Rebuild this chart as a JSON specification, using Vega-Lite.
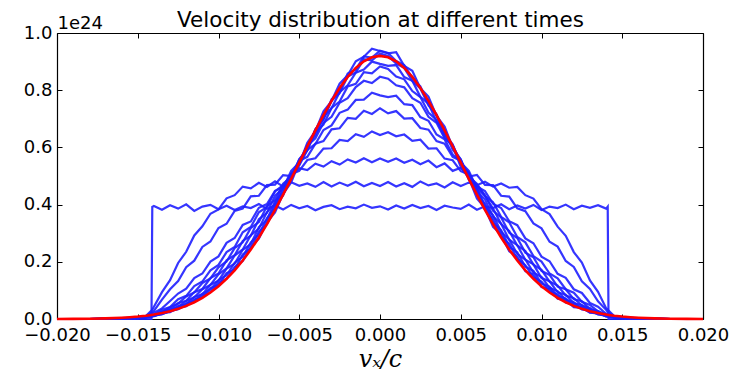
{
  "$schema": "https://vega.github.io/schema/vega-lite/v6.json",
  "autosize": {"type": "none"},
  "padding": {"left": 57, "top": 33, "right": 53, "bottom": 56},
  "width": 646,
  "height": 286,
  "background": "white",
  "config": {
    "view": {"stroke": null},
    "axis": {"domainColor": "black", "domainWidth": 1.2, "tickColor": "black", "tickWidth": 1, "labelColor": "black", "labelFont": "DejaVu Sans", "labelFontSize": 18, "tickSize": -5, "grid": false, "labelFlush": false, "labelOverlap": false, "labelPadding": 10}
  },
  "data": {"values": [
    {"x": -0.02, "a": 0, "b": 0, "c": 0, "d": 0, "e": 0, "f": 0, "g": 0, "h": 0, "i": 0, "j": 0, "k": 0, "l": 0, "r": 0.0002},
    {"x": -0.019, "a": 0, "b": 0, "c": 0, "d": 0, "e": 0, "f": 0, "g": 0, "h": 0, "i": 0, "j": 0, "k": 0, "l": 0, "r": 0.0005},
    {"x": -0.018, "a": 0, "b": 0, "c": 0, "d": 0, "e": 0, "f": 0, "g": 0, "h": 0, "i": 0, "j": 0, "k": 0, "l": 0, "r": 0.0011},
    {"x": -0.017, "a": 0, "b": 0, "c": 0, "d": 0, "e": 0, "f": 0, "g": 0, "h": 0.001, "i": 0.001, "j": 0.001, "k": 0.001, "l": 0.001, "r": 0.0022},
    {"x": -0.016, "a": 0, "b": 0.001, "c": 0.001, "d": 0.001, "e": 0.001, "f": 0.001, "g": 0.001, "h": 0.002, "i": 0.002, "j": 0.002, "k": 0.003, "l": 0.002, "r": 0.0045},
    {"x": -0.0155, "a": 0, "b": 0.002, "c": 0.002, "d": 0.002, "e": 0.002, "f": 0.002, "g": 0.002, "h": 0.003, "i": 0.003, "j": 0.003, "k": 0.004, "l": 0.004, "r": 0.0062},
    {"x": -0.015, "a": 0, "b": 0.004, "c": 0.003, "d": 0.003, "e": 0.003, "f": 0.003, "g": 0.003, "h": 0.003, "i": 0.004, "j": 0.004, "k": 0.005, "l": 0.005, "r": 0.0085},
    {"x": -0.0145, "a": 0, "b": 0.01, "c": 0.008, "d": 0.007, "e": 0.006, "f": 0.006, "g": 0.006, "h": 0.006, "i": 0.006, "j": 0.006, "k": 0.007, "l": 0.007, "r": 0.0115},
    {"x": -0.01415, "a": 0, "b": 0.03, "c": 0.022, "d": 0.017, "e": 0.013, "f": 0.011, "g": 0.01, "h": 0.01, "i": 0.009, "j": 0.009, "k": 0.009, "l": 0.009, "r": 0.0142},
    {"x": -0.0141, "a": 0.392, "b": 0.033, "c": 0.024, "d": 0.018, "e": 0.014, "f": 0.012, "g": 0.011, "h": 0.011, "i": 0.01, "j": 0.01, "k": 0.01, "l": 0.01, "r": 0.0146},
    {"x": -0.014, "a": 0.395, "b": 0.043, "c": 0.028, "d": 0.022, "e": 0.014, "f": 0.014, "g": 0.011, "h": 0.013, "i": 0.010, "j": 0.012, "k": 0.010, "l": 0.012, "r": 0.0155},
    {"x": -0.0135, "a": 0.382, "b": 0.094, "c": 0.068, "d": 0.037, "e": 0.032, "f": 0.023, "g": 0.026, "h": 0.019, "i": 0.022, "j": 0.017, "k": 0.021, "l": 0.017, "r": 0.0207},
    {"x": -0.013, "a": 0.398, "b": 0.136, "c": 0.104, "d": 0.063, "e": 0.042, "f": 0.041, "g": 0.033, "h": 0.032, "i": 0.026, "j": 0.029, "k": 0.024, "l": 0.027, "r": 0.0273},
    {"x": -0.0125, "a": 0.386, "b": 0.196, "c": 0.133, "d": 0.089, "e": 0.069, "f": 0.054, "g": 0.055, "h": 0.042, "i": 0.045, "j": 0.036, "k": 0.040, "l": 0.034, "r": 0.0355},
    {"x": -0.012, "a": 0.401, "b": 0.235, "c": 0.181, "d": 0.106, "e": 0.081, "f": 0.079, "g": 0.064, "h": 0.063, "i": 0.052, "j": 0.054, "k": 0.045, "l": 0.049, "r": 0.0459},
    {"x": -0.0115, "a": 0.378, "b": 0.292, "c": 0.204, "d": 0.143, "e": 0.115, "f": 0.093, "g": 0.094, "h": 0.076, "i": 0.077, "j": 0.064, "k": 0.068, "l": 0.059, "r": 0.0586},
    {"x": -0.011, "a": 0.393, "b": 0.324, "c": 0.252, "d": 0.159, "e": 0.131, "f": 0.126, "g": 0.105, "h": 0.104, "i": 0.086, "j": 0.089, "k": 0.076, "l": 0.081, "r": 0.0740},
    {"x": -0.0105, "a": 0.399, "b": 0.368, "c": 0.271, "d": 0.201, "e": 0.170, "f": 0.142, "g": 0.143, "h": 0.119, "i": 0.120, "j": 0.103, "k": 0.108, "l": 0.094, "r": 0.0926},
    {"x": -0.01, "a": 0.384, "b": 0.383, "c": 0.318, "d": 0.219, "e": 0.189, "f": 0.181, "g": 0.159, "h": 0.156, "i": 0.134, "j": 0.136, "k": 0.119, "l": 0.126, "r": 0.1147},
    {"x": -0.0095, "a": 0.396, "b": 0.422, "c": 0.333, "d": 0.266, "e": 0.234, "f": 0.201, "g": 0.205, "h": 0.177, "i": 0.176, "j": 0.153, "k": 0.160, "l": 0.141, "r": 0.1405},
    {"x": -0.009, "a": 0.381, "b": 0.433, "c": 0.378, "d": 0.283, "e": 0.252, "f": 0.248, "g": 0.223, "h": 0.222, "i": 0.193, "j": 0.197, "k": 0.173, "l": 0.182, "r": 0.1703},
    {"x": -0.0085, "a": 0.394, "b": 0.463, "c": 0.386, "d": 0.329, "e": 0.303, "f": 0.268, "g": 0.273, "h": 0.243, "i": 0.242, "j": 0.218, "k": 0.226, "l": 0.203, "r": 0.2044},
    {"x": -0.008, "a": 0.388, "b": 0.457, "c": 0.429, "d": 0.341, "e": 0.322, "f": 0.318, "g": 0.291, "h": 0.293, "i": 0.262, "j": 0.268, "k": 0.247, "l": 0.253, "r": 0.2427},
    {"x": -0.0075, "a": 0.402, "b": 0.476, "c": 0.431, "d": 0.389, "e": 0.373, "f": 0.339, "g": 0.349, "h": 0.316, "i": 0.321, "j": 0.295, "k": 0.305, "l": 0.281, "r": 0.2851},
    {"x": -0.007, "a": 0.385, "b": 0.462, "c": 0.468, "d": 0.402, "e": 0.392, "f": 0.394, "g": 0.371, "h": 0.374, "i": 0.347, "j": 0.353, "k": 0.332, "l": 0.338, "r": 0.3316},
    {"x": -0.0065, "a": 0.397, "b": 0.481, "c": 0.470, "d": 0.448, "e": 0.446, "f": 0.416, "g": 0.431, "h": 0.402, "i": 0.411, "j": 0.387, "k": 0.398, "l": 0.373, "r": 0.3817},
    {"x": -0.006, "a": 0.383, "b": 0.463, "c": 0.503, "d": 0.462, "e": 0.468, "f": 0.473, "g": 0.457, "h": 0.463, "i": 0.441, "j": 0.452, "k": 0.432, "l": 0.438, "r": 0.4347},
    {"x": -0.0055, "a": 0.399, "b": 0.478, "c": 0.500, "d": 0.506, "e": 0.502, "f": 0.496, "g": 0.518, "h": 0.495, "i": 0.508, "j": 0.490, "k": 0.503, "l": 0.477, "r": 0.4900},
    {"x": -0.005, "a": 0.387, "b": 0.466, "c": 0.527, "d": 0.518, "e": 0.553, "f": 0.537, "g": 0.547, "h": 0.558, "i": 0.541, "j": 0.558, "k": 0.542, "l": 0.548, "r": 0.5466},
    {"x": -0.0045, "a": 0.395, "b": 0.474, "c": 0.521, "d": 0.556, "e": 0.567, "f": 0.591, "g": 0.606, "h": 0.590, "i": 0.609, "j": 0.595, "k": 0.616, "l": 0.590, "r": 0.6035},
    {"x": -0.004, "a": 0.380, "b": 0.462, "c": 0.543, "d": 0.562, "e": 0.613, "f": 0.612, "g": 0.632, "h": 0.653, "i": 0.642, "j": 0.663, "k": 0.657, "l": 0.663, "r": 0.6593},
    {"x": -0.0035, "a": 0.392, "b": 0.479, "c": 0.533, "d": 0.596, "e": 0.622, "f": 0.661, "g": 0.686, "h": 0.680, "i": 0.706, "j": 0.697, "k": 0.726, "l": 0.700, "r": 0.7129},
    {"x": -0.003, "a": 0.398, "b": 0.463, "c": 0.552, "d": 0.597, "e": 0.663, "f": 0.677, "g": 0.707, "h": 0.738, "i": 0.737, "j": 0.763, "k": 0.762, "l": 0.768, "r": 0.7628},
    {"x": -0.0025, "a": 0.384, "b": 0.477, "c": 0.540, "d": 0.626, "e": 0.667, "f": 0.721, "g": 0.756, "h": 0.760, "i": 0.793, "j": 0.790, "k": 0.823, "l": 0.797, "r": 0.8077},
    {"x": -0.002, "a": 0.393, "b": 0.466, "c": 0.558, "d": 0.622, "e": 0.703, "f": 0.732, "g": 0.772, "h": 0.813, "i": 0.817, "j": 0.848, "k": 0.852, "l": 0.858, "r": 0.8465},
    {"x": -0.0015, "a": 0.387, "b": 0.480, "c": 0.547, "d": 0.646, "e": 0.700, "f": 0.766, "g": 0.811, "h": 0.822, "i": 0.861, "j": 0.862, "k": 0.901, "l": 0.872, "r": 0.8779},
    {"x": -0.001, "a": 0.400, "b": 0.464, "c": 0.562, "d": 0.637, "e": 0.728, "f": 0.767, "g": 0.833, "h": 0.863, "i": 0.872, "j": 0.908, "k": 0.917, "l": 0.918, "r": 0.9010},
    {"x": -0.0005, "a": 0.389, "b": 0.476, "c": 0.548, "d": 0.656, "e": 0.717, "f": 0.791, "g": 0.825, "h": 0.859, "i": 0.900, "j": 0.904, "k": 0.945, "l": 0.914, "r": 0.9152},
    {"x": 0, "a": 0.394, "b": 0.465, "c": 0.561, "d": 0.643, "e": 0.737, "f": 0.782, "g": 0.847, "h": 0.883, "i": 0.892, "j": 0.928, "k": 0.937, "l": 0.938, "r": 0.92},
    {"x": 0.0005, "a": 0.383, "b": 0.479, "c": 0.550, "d": 0.653, "e": 0.719, "f": 0.776, "g": 0.840, "h": 0.874, "i": 0.885, "j": 0.920, "k": 0.929, "l": 0.930, "r": 0.9152},
    {"x": 0.001, "a": 0.397, "b": 0.463, "c": 0.561, "d": 0.639, "e": 0.727, "f": 0.781, "g": 0.817, "h": 0.848, "i": 0.888, "j": 0.893, "k": 0.933, "l": 0.902, "r": 0.9010},
    {"x": 0.0015, "a": 0.386, "b": 0.475, "c": 0.546, "d": 0.645, "e": 0.701, "f": 0.751, "g": 0.810, "h": 0.838, "i": 0.846, "j": 0.878, "k": 0.885, "l": 0.888, "r": 0.8779},
    {"x": 0.002, "a": 0.399, "b": 0.462, "c": 0.557, "d": 0.623, "e": 0.702, "f": 0.748, "g": 0.772, "h": 0.797, "i": 0.833, "j": 0.832, "k": 0.868, "l": 0.842, "r": 0.8465},
    {"x": 0.0025, "a": 0.388, "b": 0.481, "c": 0.541, "d": 0.627, "e": 0.668, "f": 0.706, "g": 0.756, "h": 0.776, "i": 0.777, "j": 0.806, "k": 0.807, "l": 0.813, "r": 0.8077},
    {"x": 0.003, "a": 0.395, "b": 0.467, "c": 0.554, "d": 0.596, "e": 0.662, "f": 0.693, "g": 0.707, "h": 0.722, "i": 0.753, "j": 0.747, "k": 0.778, "l": 0.752, "r": 0.7628},
    {"x": 0.0035, "a": 0.381, "b": 0.474, "c": 0.531, "d": 0.597, "e": 0.622, "f": 0.645, "g": 0.686, "h": 0.696, "i": 0.690, "j": 0.713, "k": 0.710, "l": 0.716, "r": 0.7129},
    {"x": 0.004, "a": 0.396, "b": 0.460, "c": 0.544, "d": 0.561, "e": 0.613, "f": 0.628, "g": 0.632, "h": 0.637, "i": 0.658, "j": 0.647, "k": 0.673, "l": 0.647, "r": 0.6593},
    {"x": 0.0045, "a": 0.390, "b": 0.478, "c": 0.518, "d": 0.555, "e": 0.567, "f": 0.575, "g": 0.606, "h": 0.606, "i": 0.592, "j": 0.611, "k": 0.600, "l": 0.606, "r": 0.6035},
    {"x": 0.005, "a": 0.385, "b": 0.465, "c": 0.529, "d": 0.517, "e": 0.553, "f": 0.553, "g": 0.547, "h": 0.542, "i": 0.558, "j": 0.542, "k": 0.558, "l": 0.532, "r": 0.5466},
    {"x": 0.0055, "a": 0.400, "b": 0.477, "c": 0.498, "d": 0.505, "e": 0.502, "f": 0.497, "g": 0.518, "h": 0.511, "i": 0.492, "j": 0.506, "k": 0.487, "l": 0.493, "r": 0.4900},
    {"x": 0.006, "a": 0.382, "b": 0.468, "c": 0.504, "d": 0.463, "e": 0.468, "f": 0.473, "g": 0.457, "h": 0.447, "i": 0.458, "j": 0.437, "k": 0.448, "l": 0.422, "r": 0.4347},
    {"x": 0.0065, "a": 0.394, "b": 0.480, "c": 0.469, "d": 0.447, "e": 0.430, "f": 0.432, "g": 0.431, "h": 0.418, "i": 0.395, "j": 0.403, "k": 0.382, "l": 0.388, "r": 0.3817},
    {"x": 0.007, "a": 0.388, "b": 0.463, "c": 0.468, "d": 0.403, "e": 0.408, "f": 0.378, "g": 0.386, "h": 0.358, "i": 0.363, "j": 0.337, "k": 0.348, "l": 0.322, "r": 0.3316},
    {"x": 0.0075, "a": 0.401, "b": 0.474, "c": 0.431, "d": 0.388, "e": 0.357, "f": 0.355, "g": 0.332, "h": 0.333, "i": 0.305, "j": 0.311, "k": 0.290, "l": 0.296, "r": 0.2851},
    {"x": 0.008, "a": 0.384, "b": 0.459, "c": 0.428, "d": 0.342, "e": 0.338, "f": 0.302, "g": 0.308, "h": 0.277, "i": 0.278, "j": 0.252, "k": 0.263, "l": 0.237, "r": 0.2427},
    {"x": 0.0085, "a": 0.397, "b": 0.462, "c": 0.387, "d": 0.328, "e": 0.287, "f": 0.283, "g": 0.257, "h": 0.258, "i": 0.227, "j": 0.233, "k": 0.210, "l": 0.218, "r": 0.2044},
    {"x": 0.009, "a": 0.386, "b": 0.433, "c": 0.377, "d": 0.282, "e": 0.268, "f": 0.232, "g": 0.238, "h": 0.207, "i": 0.208, "j": 0.183, "k": 0.188, "l": 0.167, "r": 0.1703},
    {"x": 0.0095, "a": 0.399, "b": 0.421, "c": 0.334, "d": 0.265, "e": 0.220, "f": 0.216, "g": 0.190, "h": 0.191, "i": 0.162, "j": 0.168, "k": 0.146, "l": 0.156, "r": 0.1405},
    {"x": 0.01, "a": 0.381, "b": 0.384, "c": 0.317, "d": 0.218, "e": 0.201, "f": 0.168, "g": 0.172, "h": 0.143, "i": 0.147, "j": 0.124, "k": 0.131, "l": 0.112, "r": 0.1147},
    {"x": 0.0105, "a": 0.393, "b": 0.367, "c": 0.270, "d": 0.202, "e": 0.159, "f": 0.154, "g": 0.131, "h": 0.132, "i": 0.109, "j": 0.113, "k": 0.097, "l": 0.105, "r": 0.0926},
    {"x": 0.011, "a": 0.388, "b": 0.323, "c": 0.253, "d": 0.158, "e": 0.142, "f": 0.113, "g": 0.117, "h": 0.093, "i": 0.097, "j": 0.080, "k": 0.086, "l": 0.071, "r": 0.0740},
    {"x": 0.0115, "a": 0.400, "b": 0.291, "c": 0.203, "d": 0.144, "e": 0.104, "f": 0.104, "g": 0.082, "h": 0.085, "i": 0.067, "j": 0.072, "k": 0.058, "l": 0.066, "r": 0.0586},
    {"x": 0.012, "a": 0.384, "b": 0.234, "c": 0.182, "d": 0.104, "e": 0.092, "f": 0.069, "g": 0.073, "h": 0.055, "i": 0.059, "j": 0.045, "k": 0.052, "l": 0.041, "r": 0.0459},
    {"x": 0.0125, "a": 0.396, "b": 0.197, "c": 0.132, "d": 0.091, "e": 0.060, "f": 0.062, "g": 0.047, "h": 0.049, "i": 0.037, "j": 0.042, "k": 0.033, "l": 0.039, "r": 0.0355},
    {"x": 0.013, "a": 0.389, "b": 0.135, "c": 0.105, "d": 0.056, "e": 0.049, "f": 0.034, "g": 0.038, "h": 0.027, "i": 0.031, "j": 0.023, "k": 0.029, "l": 0.022, "r": 0.0273},
    {"x": 0.0135, "a": 0.398, "b": 0.095, "c": 0.062, "d": 0.043, "e": 0.027, "f": 0.028, "g": 0.021, "h": 0.024, "i": 0.017, "j": 0.022, "k": 0.016, "l": 0.020, "r": 0.0207},
    {"x": 0.014, "a": 0.386, "b": 0.038, "c": 0.032, "d": 0.018, "e": 0.017, "f": 0.011, "g": 0.014, "h": 0.010, "i": 0.013, "j": 0.009, "k": 0.012, "l": 0.009, "r": 0.0155},
    {"x": 0.0141, "a": 0.393, "b": 0.033, "c": 0.024, "d": 0.018, "e": 0.014, "f": 0.012, "g": 0.011, "h": 0.011, "i": 0.01, "j": 0.01, "k": 0.01, "l": 0.01, "r": 0.0146},
    {"x": 0.01415, "a": 0, "b": 0.03, "c": 0.022, "d": 0.017, "e": 0.013, "f": 0.011, "g": 0.01, "h": 0.01, "i": 0.009, "j": 0.009, "k": 0.009, "l": 0.009, "r": 0.0142},
    {"x": 0.0145, "a": 0, "b": 0.01, "c": 0.008, "d": 0.007, "e": 0.006, "f": 0.006, "g": 0.006, "h": 0.006, "i": 0.006, "j": 0.006, "k": 0.007, "l": 0.007, "r": 0.0115},
    {"x": 0.015, "a": 0, "b": 0.004, "c": 0.003, "d": 0.003, "e": 0.003, "f": 0.003, "g": 0.003, "h": 0.003, "i": 0.004, "j": 0.004, "k": 0.005, "l": 0.005, "r": 0.0085},
    {"x": 0.0155, "a": 0, "b": 0.002, "c": 0.002, "d": 0.002, "e": 0.002, "f": 0.002, "g": 0.002, "h": 0.003, "i": 0.003, "j": 0.003, "k": 0.004, "l": 0.004, "r": 0.0062},
    {"x": 0.016, "a": 0, "b": 0.001, "c": 0.001, "d": 0.001, "e": 0.001, "f": 0.001, "g": 0.001, "h": 0.002, "i": 0.002, "j": 0.002, "k": 0.003, "l": 0.002, "r": 0.0045},
    {"x": 0.017, "a": 0, "b": 0, "c": 0, "d": 0, "e": 0, "f": 0, "g": 0, "h": 0.001, "i": 0.001, "j": 0.001, "k": 0.001, "l": 0.001, "r": 0.0022},
    {"x": 0.018, "a": 0, "b": 0, "c": 0, "d": 0, "e": 0, "f": 0, "g": 0, "h": 0, "i": 0, "j": 0, "k": 0, "l": 0, "r": 0.0011},
    {"x": 0.019, "a": 0, "b": 0, "c": 0, "d": 0, "e": 0, "f": 0, "g": 0, "h": 0, "i": 0, "j": 0, "k": 0, "l": 0, "r": 0.0005},
    {"x": 0.02, "a": 0, "b": 0, "c": 0, "d": 0, "e": 0, "f": 0, "g": 0, "h": 0, "i": 0, "j": 0, "k": 0, "l": 0, "r": 0.0002}
  ]},
  "layer": [
    {
      "transform": [{"fold": ["a", "b", "c", "d", "e", "f", "g", "h", "i", "j", "k", "l"], "as": ["curve", "y"]}],
      "mark": {"type": "line", "color": "#1f1fff", "strokeWidth": 2.2, "opacity": 0.9},
      "encoding": {
        "x": {"field": "x", "type": "quantitative", "scale": {"domain": [-0.02, 0.02], "nice": false, "zero": false},
              "axis": {"orient": "bottom", "values": [-0.02, -0.015, -0.01, -0.005, 0, 0.005, 0.01, 0.015, 0.02], "format": ".3f", "labelPadding": 12,
                       "title": "vₓ/c", "titleFont": "DejaVu Serif", "titleFontStyle": "italic", "titleFontWeight": "normal", "titleFontSize": 24, "titleColor": "black", "titlePadding": 3}},
        "y": {"field": "y", "type": "quantitative", "scale": {"domain": [0, 1], "nice": false},
              "axis": {"orient": "left", "values": [0, 0.2, 0.4, 0.6, 0.8, 1], "format": ".1f",
                       "title": "1e24", "titleAngle": 0, "titleX": 0, "titleY": -5, "titleAlign": "left", "titleBaseline": "alphabetic",
                       "titleFont": "DejaVu Sans", "titleFontSize": 18, "titleFontWeight": "normal", "titleColor": "black"}},
        "detail": {"field": "curve"}
      }
    },
    {
      "mark": {"type": "line", "color": "#ff0000", "strokeWidth": 2.6},
      "encoding": {
        "x": {"field": "x", "type": "quantitative", "scale": {"domain": [-0.02, 0.02], "nice": false, "zero": false},
              "axis": {"orient": "top", "values": [-0.02, -0.015, -0.01, -0.005, 0, 0.005, 0.01, 0.015, 0.02], "labels": false,
                       "title": "Velocity distribution at different times", "titleFont": "DejaVu Sans", "titleFontSize": 21.5, "titleFontWeight": "normal", "titleColor": "black", "titleBaseline": "alphabetic", "titleY": -7}},
        "y": {"field": "r", "type": "quantitative", "scale": {"domain": [0, 1], "nice": false},
              "axis": {"orient": "right", "values": [0, 0.2, 0.4, 0.6, 0.8, 1], "labels": false, "title": null}}
      }
    }
  ],
  "resolve": {"axis": {"x": "independent", "y": "independent"}}
}
